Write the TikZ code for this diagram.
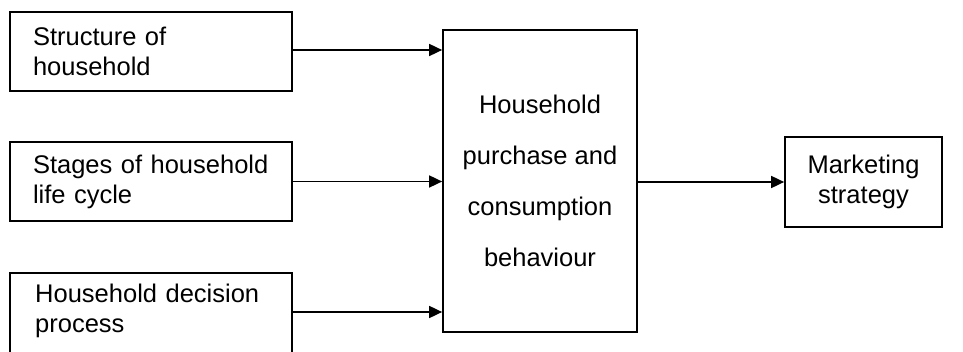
\documentclass[tikz,border=0pt]{standalone}
\usepackage{fontspec}
\setmainfont{Liberation Sans}
\usetikzlibrary{arrows.meta}
\begin{document}
\begin{tikzpicture}[x=1pt,y=-1pt,
  box/.style={draw, line width=1.7pt, rectangle, inner sep=0pt},
  lefttext/.style={text width=244pt, align=left, font=\fontsize{25.5}{30}\selectfont},
  leftbox/.style={box, minimum width=282pt, minimum height=79pt},
  flow/.style={line width=1.7pt, -{Triangle[length=13pt,width=12pt]}}]
\useasboundingbox[fill=white] (0,0) rectangle (963,352);
\clip (0,0) rectangle (963,352);
% influencing factors
\node[leftbox, lefttext, text width=236pt] (s) at (151,51.5) {Structure of\\household};
\node[leftbox, lefttext, text width=236pt] (l) at (151,181.5) {Stages of household\\life cycle};
\node[leftbox, minimum height=84pt] (p) at (151,315) {};
\node[lefttext, anchor=west, inner sep=0pt] (pt) at (35,311) {Household decision\\process};
% central behaviour box
\node[box, minimum width=194pt, minimum height=302pt, align=center,
      font=\fontsize{25.5}{51}\selectfont] (c) at (540,181)
      {Household\\purchase and\\consumption\\behaviour};
% outcome
\node[box, minimum width=157pt, minimum height=90pt, align=center,
      font=\fontsize{25.5}{30}\selectfont] (m) at (863.5,182)
      {Marketing\\strategy};
% connectors
\draw[flow] ([yshift=1.5pt]s.east) -- ([yshift=1.5pt]s.east -| c.west);
\draw[flow] (l.east) -- (l.east -| c.west);
\draw[flow] ([yshift=3pt]p.east) -- ([yshift=3pt]p.east -| c.west);
\draw[flow] (c.east |- m.west) -- (m.west);
\end{tikzpicture}
\end{document}
